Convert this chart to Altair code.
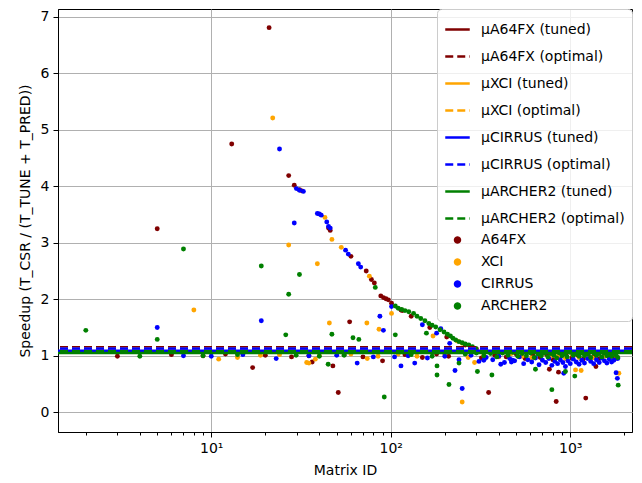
import altair as alt
import pandas as pd

platforms = ["A64FX", "XCI", "CIRRUS", "ARCHER2"]
colors = ["#800000", "#FFA500", "#0000FF", "#008000"]
tuned_means = [1.07, 1.06, 1.09, 1.05]
optimal_means = [1.15, 1.13, 1.13, 1.08]

a64fx_x = [3, 5, 13, 17, 21, 27, 28, 29, 31, 32, 36.5, 45, 46, 47.6, 51, 59, 60, 73, 78, 81,
           88, 90, 91, 94, 97, 101, 114, 116, 130, 165, 205, 260, 300, 351, 765, 835, 860, 1220, 1390,
           6, 9, 12, 20, 35, 55, 70, 120, 150, 180, 210, 260, 320, 380, 440, 500, 560, 620, 680,
           740, 800, 880, 950, 1020, 1100, 1180, 1260, 1350, 1450, 1550, 1650, 1750, 1820]
a64fx_y = [0.99, 3.25, 4.75, 0.79, 6.81, 4.19, 0.98, 4.02, 3.94, 3.92, 0.89, 3.26, 3.22, 0.82, 0.35, 1.60, 2.76, 2.50, 2.35, 2.29,
           2.06, 0.91, 2.03, 2.01, 1.99, 1.93, 1.81, 1.80, 1.70, 1.50, 1.33, 1.19, 1.12, 0.35, 0.76, 0.19, 0.71, 0.25, 0.81,
           1.02, 1.00, 1.03, 1.01, 1.00, 1.02, 0.98, 1.02, 0.97, 1.03, 0.99, 1.04, 0.96, 1.01, 0.98, 1.03, 0.95, 1.00, 0.97,
           1.02, 0.93, 0.99, 1.04, 0.96, 1.01, 0.94, 1.02, 0.98, 0.95, 1.03, 0.97, 1.00, 0.96]

xci_x = [8, 11, 14, 18.8, 22, 27, 34, 35, 38, 39, 43, 45.5, 47, 53, 73.6, 74, 76, 86, 101, 172,
         235, 250, 250, 293, 1070, 1150, 1866,
         24, 40, 60, 85, 110, 140, 200, 270, 330, 400, 470, 540, 610, 690, 770, 860, 940, 1030,
         1120, 1230, 1330, 1440, 1560, 1680, 1790]
xci_y = [1.81, 0.94, 0.97, 1.01, 5.21, 2.96, 0.88, 0.87, 0.94, 2.63, 3.45, 1.58, 3.06, 2.92, 1.58, 0.95, 2.41, 1.47, 1.75, 1.35,
         1.26, 1.22, 0.18, 0.88, 0.75, 0.74, 0.69,
         1.02, 1.00, 1.03, 0.99, 1.03, 0.99, 1.02, 0.97, 1.01, 0.98, 1.04, 0.99, 0.96, 1.02, 0.98, 1.00, 0.95, 1.02,
         0.97, 1.01, 0.96, 1.03, 0.99, 0.94, 1.01]

cirrus_x = [5, 19, 23, 24, 29, 29.8, 31, 32.6, 39, 40, 41, 44, 45, 46, 56, 58, 65, 66, 68, 87,
            91, 101, 114, 136, 150, 180, 190, 213, 228, 250, 330, 410, 470, 477, 920, 1800, 1830,
            7, 10, 15, 35, 50, 80, 105, 125, 160, 200, 240, 280, 310, 340, 370, 400, 430, 460, 490,
            520, 550, 580, 610, 640, 670, 700, 730, 760, 790, 820, 850, 880, 910, 940, 970, 1000,
            1040, 1080, 1120, 1160, 1200, 1250, 1300, 1350, 1400, 1450, 1500, 1550, 1600, 1650,
            1700, 1750, 1840]
cirrus_y = [1.50, 1.62, 0.95, 4.66, 3.35, 3.96, 3.93, 3.91, 3.52, 3.51, 3.49, 3.37, 3.29, 3.26, 2.87, 2.80, 0.87, 2.63, 2.57, 1.70,
            1.45, 1.87, 0.82, 0.87, 1.55, 1.40, 1.48, 1.22, 0.74, 0.42, 0.92, 0.85, 0.89, 0.92, 0.69, 0.70, 0.60,
            1.00, 0.99, 1.02, 1.00, 1.01, 0.98, 0.98, 1.00, 0.96, 0.99, 0.93, 1.01, 0.90, 0.97, 0.93, 0.99, 0.88, 0.95, 0.91,
            0.98, 0.86, 0.93, 0.89, 0.96, 0.84, 0.92, 0.88, 0.95, 0.83, 0.90, 0.86, 0.93, 0.88, 0.81, 0.91, 0.86,
            0.94, 0.89, 0.85, 0.92, 0.87, 0.95, 0.90, 0.86, 0.93, 0.88, 0.96, 0.91, 0.87, 0.94,
            0.89, 0.92, 0.95]

archer2_x = [2, 4, 5, 7, 19, 26, 27, 29.7, 31, 44.8, 47, 61.6, 66.4, 82, 92, 106, 106, 110, 115, 120,
             126, 134, 140, 147, 155, 158, 163, 170, 178, 181, 181, 188, 198, 207, 211, 215, 222, 230, 240, 240,
             250, 260, 272, 285, 297, 304, 366, 640, 790, 940, 1060, 1850,
             9, 14, 40, 55, 130, 170, 260, 300, 330, 360, 390, 420, 450, 480, 510, 540, 570, 600, 630,
             660, 690, 720, 750, 780, 810, 840, 870, 900, 930, 960, 1000, 1040, 1080, 1120, 1160, 1200,
             1250, 1300, 1350, 1400, 1450, 1500, 1550, 1600, 1650, 1700, 1750, 1800, 1840]
archer2_y = [1.45, 0.99, 1.29, 2.89, 2.59, 1.37, 2.09, 1.01, 2.44, 0.85, 1.38, 1.32, 1.29, 2.21, 0.27, 1.37, 1.88, 1.84, 1.82, 1.80,
             1.78, 1.75, 1.70, 1.66, 1.62, 1.40, 1.57, 1.54, 1.51, 0.66, 0.82, 1.46, 1.42, 1.38, 0.49, 1.35, 1.31, 1.28, 1.25, 0.87,
             1.23, 1.21, 1.19, 1.16, 1.13, 0.72, 0.66, 0.76, 0.40, 0.72, 0.64, 0.48,
             1.00, 1.02, 0.99, 1.01, 1.02, 0.99, 1.03, 1.05, 1.00, 1.04, 0.98, 1.05, 1.01, 1.06, 0.99, 1.04, 1.00, 1.05, 0.97,
             1.03, 1.00, 1.05, 0.98, 1.04, 1.01, 0.96, 1.05, 1.00, 1.03, 0.98, 1.06, 1.01, 1.04, 0.99, 1.05, 1.00,
             1.03, 0.97, 1.05, 1.01, 1.04, 0.98, 1.05, 1.00, 1.03, 0.99, 1.05, 1.01, 0.97]

series_x = [a64fx_x, xci_x, cirrus_x, archer2_x]
series_y = [a64fx_y, xci_y, cirrus_y, archer2_y]

rows = []
for p, xs, ys in zip(platforms, series_x, series_y):
    for xv, yv in zip(xs, ys):
        rows.append({"id": xv, "speedup": yv, "label": p})
points_df = pd.DataFrame(rows)

line_rows = []
line_labels = []
for p, t, o in zip(platforms, tuned_means, optimal_means):
    line_rows.append({"value": t, "label": f"μ{p} (tuned)"})
    line_rows.append({"value": o, "label": f"μ{p} (optimal)"})
    line_labels += [f"μ{p} (tuned)", f"μ{p} (optimal)"]
lines_df = pd.DataFrame(line_rows)

domain = line_labels + platforms
color_range = [c for c in colors for _ in range(2)] + colors
dash_range = [[1, 0], [8, 4]] * 4 + [[1, 0]] * 4
shape_range = ["stroke"] * 8 + ["circle"] * 4
size_range = [600] * 8 + [24] * 4

major = "datum.value == 10 || datum.value == 100 || datum.value == 1000"
x_ticks = [2, 3, 4, 5, 6, 7, 8, 9, 10, 20, 30, 40, 50, 60, 70, 80, 90,
           100, 200, 300, 400, 500, 600, 700, 800, 900, 1000, 2000]

x_enc = alt.X(
    "id:Q",
    scale=alt.Scale(type="log", domain=[1.4, 2208], nice=False),
    axis=alt.Axis(
        title="Matrix ID",
        values=x_ticks,
        labelExpr="datum.value == 10 ? '10¹' : datum.value == 100 ? '10²' : datum.value == 1000 ? '10³' : ''",
        gridOpacity={"condition": {"test": major, "value": 1}, "value": 0},
        tickSize={"condition": {"test": major, "value": 5}, "value": 3},
        labelOverlap=False,
        labelFlush=False,
    ),
)
y_scale = alt.Scale(domain=[-0.35, 7.14], nice=False, zero=False)
y_axis = alt.Axis(title="Speedup (T_CSR / (T_TUNE + T_PRED))", values=[0, 1, 2, 3, 4, 5, 6, 7],
                  tickSize=5, format="d")

color_scale = alt.Scale(domain=domain, range=color_range)

points = alt.Chart(points_df).mark_point(filled=True, opacity=1, strokeWidth=0).encode(
    x=x_enc,
    y=alt.Y("speedup:Q", scale=y_scale, axis=y_axis),
    color=alt.Color("label:N", scale=color_scale, title=None),
    size=alt.Size("label:N", scale=alt.Scale(type="ordinal", domain=domain, range=size_range), title=None),
    shape=alt.Shape("label:N", scale=alt.Scale(type="ordinal", domain=domain, range=shape_range), title=None),
)

lines = alt.Chart(lines_df).mark_rule(strokeWidth=2.5).encode(
    y=alt.Y("value:Q", scale=y_scale),
    color=alt.Color("label:N", scale=color_scale, title=None),
    strokeDash=alt.StrokeDash("label:N", scale=alt.Scale(type="ordinal", domain=domain, range=dash_range), title=None),
)

chart = alt.layer(points, lines).properties(
    width=574, height=423,
    padding={"left": 10, "top": 0, "right": 0, "bottom": 5},
).configure_view(
    stroke="black", strokeWidth=1
).configure_axis(
    labelFont="DejaVu Sans", labelFontSize=14, labelColor="#000000",
    titleFont="DejaVu Sans", titleFontSize=14, titleFontWeight="normal", titleColor="#000000",
    gridColor="#b0b0b0", gridWidth=1, domainColor="#000000", tickColor="#000000",
    labelPadding=4, titlePadding=8,
).configure_legend(
    orient="top-right", offset=0,
    labelFont="DejaVu Sans", labelFontSize=14, labelColor="#000000",
    fillColor="rgba(255,255,255,0.8)", strokeColor="#cccccc", cornerRadius=4,
    padding=7, rowPadding=6, symbolStrokeWidth=2.5, labelOffset=10,
)

chart.save("out.html", embed_options={"renderer": "svg", "actions": False})
